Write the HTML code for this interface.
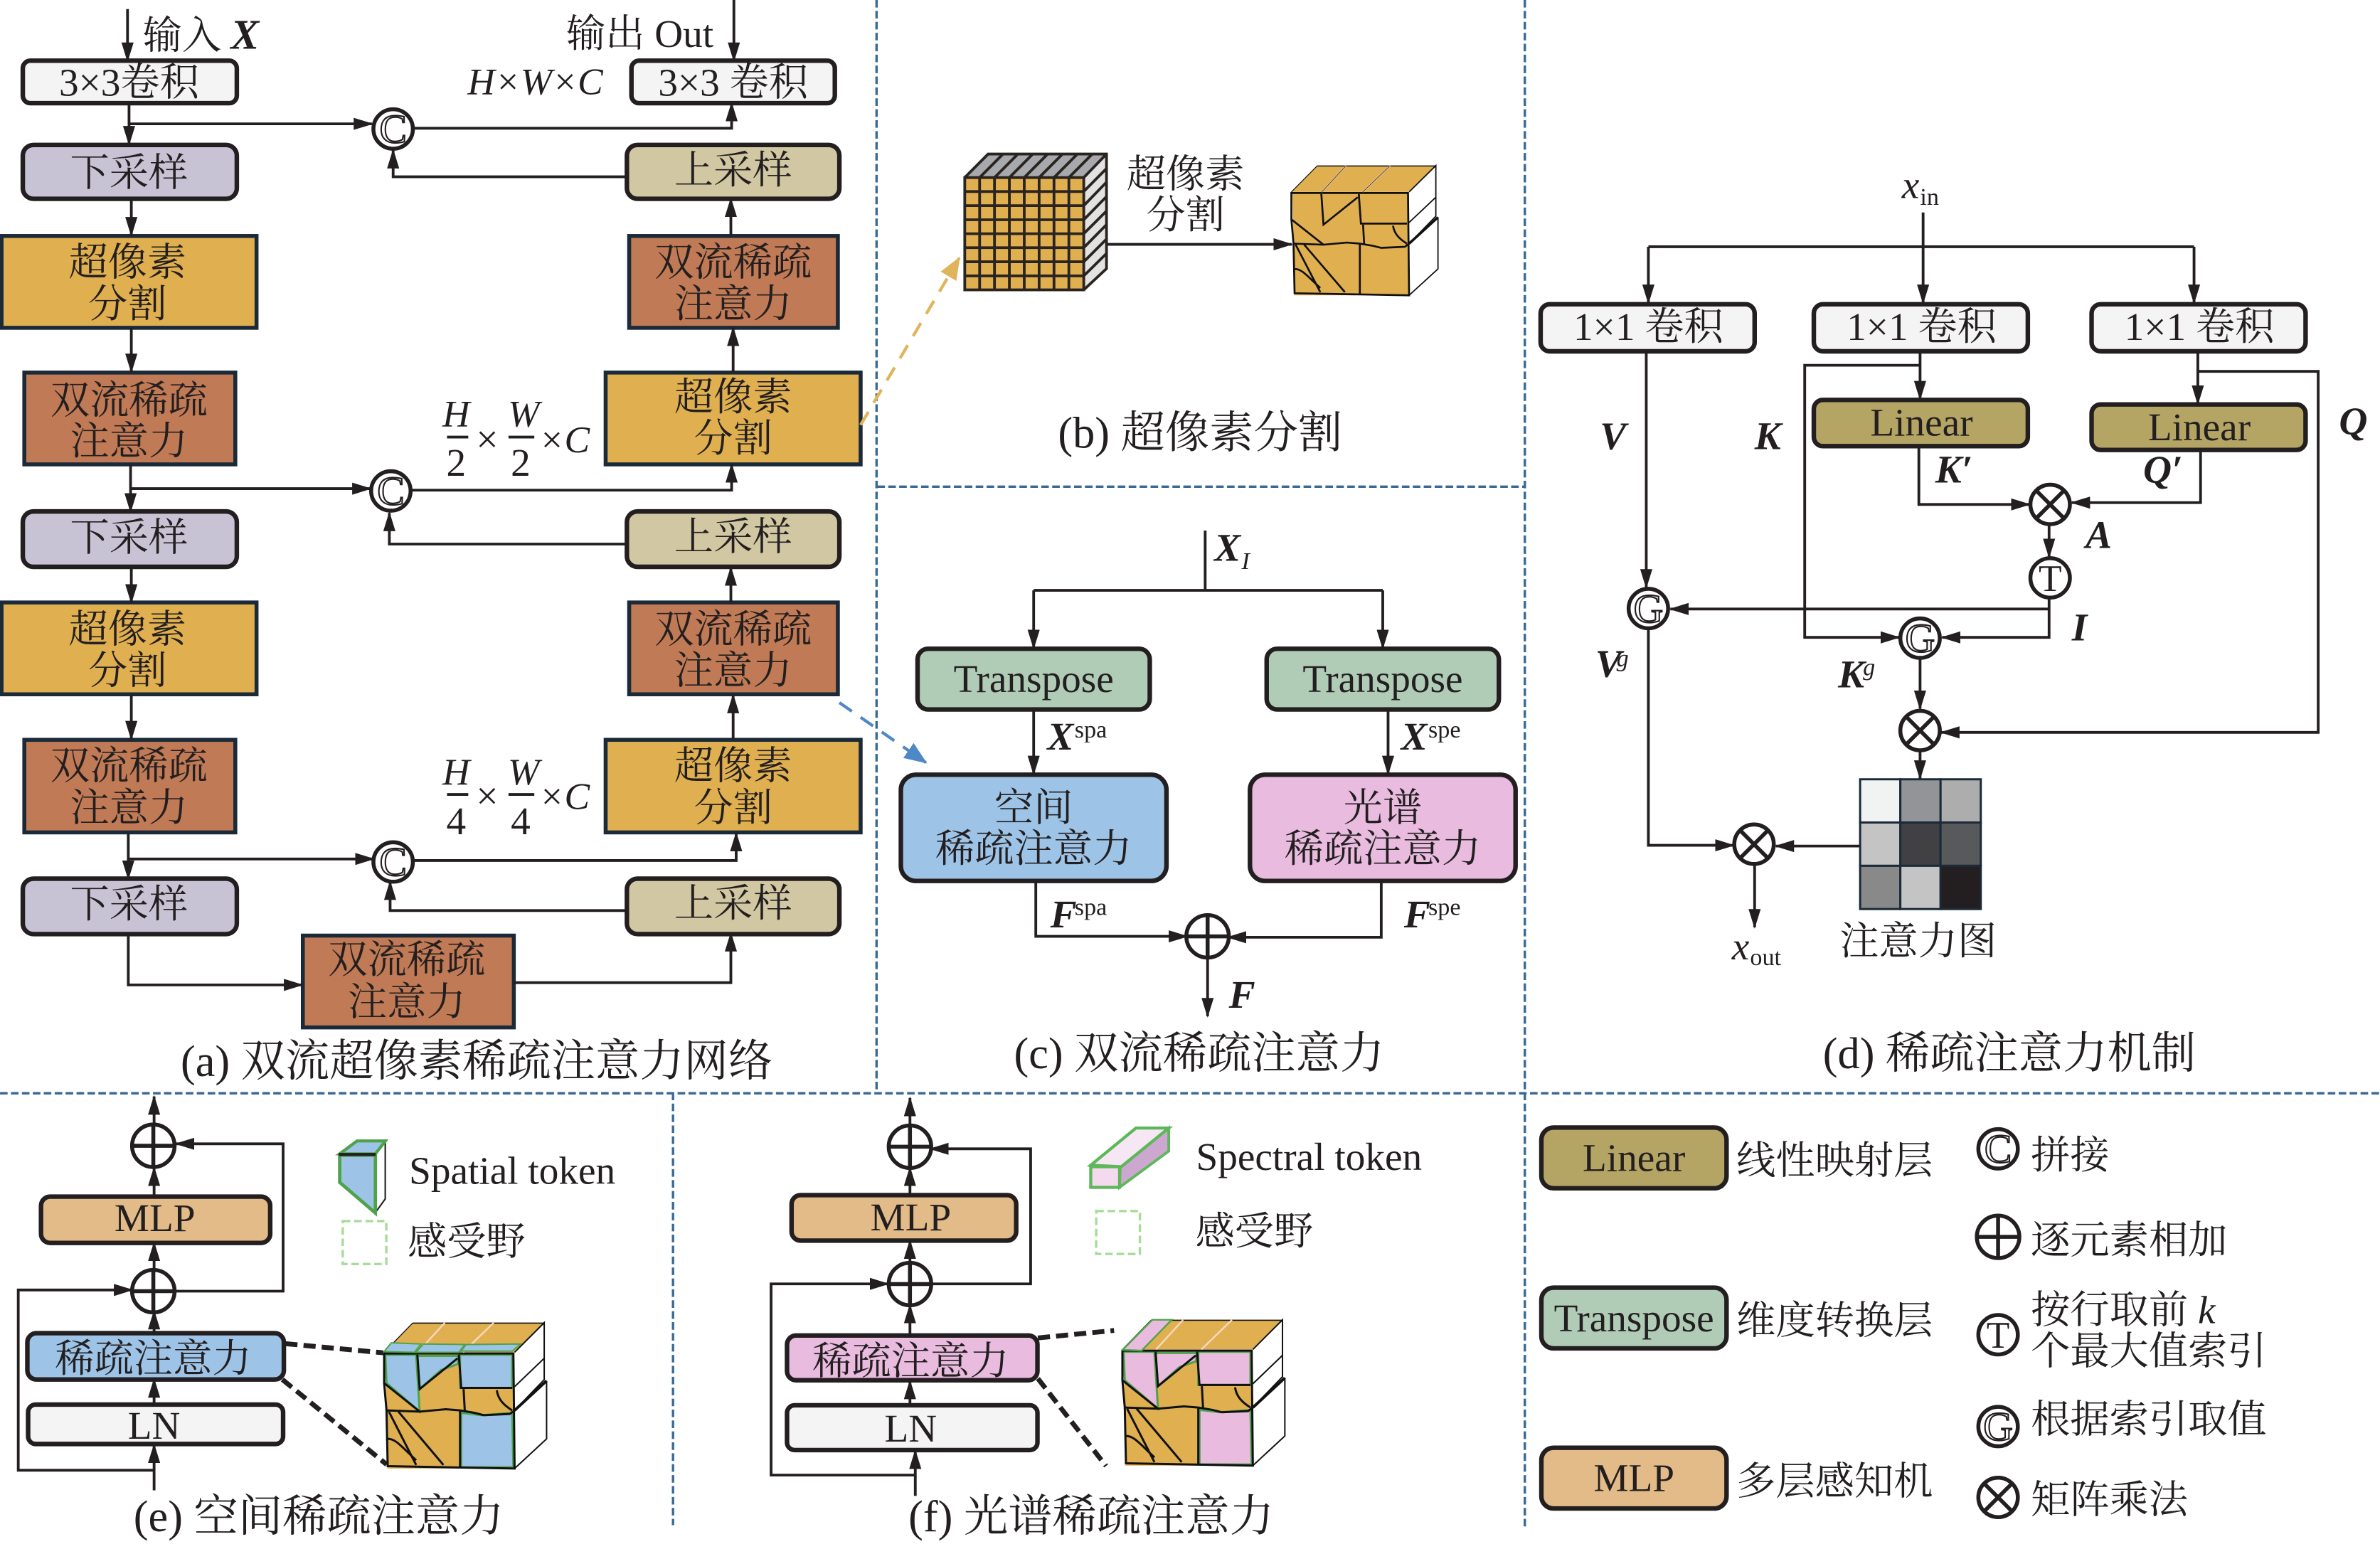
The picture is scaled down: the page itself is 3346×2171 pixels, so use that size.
<!DOCTYPE html>
<html lang="zh"><head><meta charset="utf-8"><title>双流超像素稀疏注意力网络</title>
<style>
html,body{margin:0;padding:0;background:#fff}
svg{display:block}
text{font-family:"Liberation Serif","Noto Serif CJK SC",serif;fill:#231f20;font-size:25.9px}
.m{text-anchor:middle}
.cap{font-size:29.2px}
.bi{font-weight:bold;font-style:italic;font-size:26px}
.i{font-style:italic}
.hw{font-style:italic;font-size:25px}
.s{font-size:16px}
.l{fill:none;stroke:#231f20;stroke-width:1.8}
.a{marker-end:url(#h)}
.d{fill:none;stroke:#3a6a94;stroke-width:1.6;stroke-dasharray:5 2.2}
.b{stroke:#231f20;stroke-width:3}
.q{stroke:#1b2a38;stroke-width:2.6}
.dk{fill:none;stroke:#231f20;stroke-width:3.2;stroke-dasharray:8 4}
.o{fill:#fff;stroke:#231f20;stroke-width:2.6}
.cl{fill:#fff;stroke:#231f20;stroke-width:1;font-size:27px;text-anchor:middle}
</style></head><body>
<svg xmlns="http://www.w3.org/2000/svg" width="3346" height="2171" viewBox="0 0 1568 1017.4">
<defs>
<marker id="h" markerUnits="userSpaceOnUse" markerWidth="15" markerHeight="10" refX="12" refY="4" orient="auto"><path d="M0 0L13 4L0 8z" fill="#231f20"/></marker>
<marker id="ho" markerUnits="userSpaceOnUse" markerWidth="16" markerHeight="14" refX="14" refY="6" orient="auto"><path d="M0 0L15 6L0 12z" fill="#e0b45a"/></marker>
<marker id="hb" markerUnits="userSpaceOnUse" markerWidth="16" markerHeight="14" refX="14" refY="6" orient="auto"><path d="M0 0L15 6L0 12z" fill="#4f88c6"/></marker>
<g id="ot"><circle r="13" class="o"/><path d="M-9 -9L9 9M9 -9L-9 9" stroke="#231f20" stroke-width="2.6"/></g>
<g id="pl"><circle r="14" class="o"/><path d="M-13.5 0H13.5M0 -13.5V13.5" stroke="#231f20" stroke-width="2.6"/></g>
<g id="cubeBase">
<path d="M90 215L210 90H765L635 215z" fill="#e0b050"/>
<path d="M640 215L765 90V330L775 335V580L640 705z" fill="#fff"/>
<path d="M95 220H632L638 705H103z" fill="#e0b050"/>
</g>
<g id="cubeLines" fill="none" stroke="#111" stroke-width="9">
<path d="M90 220H635L640 705L105 695L100 460L90 345z"/>
<path d="M230 225L240 370L400 240M405 225L415 365H630M425 370L430 460M100 460L240 465L350 455L410 460L470 470L510 480L620 475L640 460M90 345L240 465M565 375C570 410 590 435 630 460M110 465L225 690M150 465L340 690M105 580C140 580 160 610 225 670M410 460V700"/>
<path d="M640 215L765 90V330L640 460M775 335V580L640 705M640 360L765 240" stroke-width="6"/>
<path d="M640 460L775 335" stroke-width="12"/>
<path d="M210 92H765" stroke-width="5"/>
<path d="M90 215L210 92" stroke-width="4"/>
<path d="M232 215L346 90M423 215L552 90" stroke="#f7d9c4" stroke-width="7"/>
</g>
</defs>
<rect width="1568" height="1017.4" fill="#fff"/>

<!-- dividers -->
<path class="d" d="M577.5 0V720M1004.6 0V1008M0 720.4H1568M578 320.7H1004M443.4 720V1005"/>

<!-- panel a boxes -->
<rect x="15" y="40" width="141" height="28" rx="5" fill="#f4f4f4" class="b"/>
<rect x="416" y="40" width="134" height="28" rx="5" fill="#f4f4f4" class="b"/>
<rect x="15" y="95.5" width="141" height="35.5" rx="7" fill="#c8c3d4" class="b"/>
<rect x="413" y="95.5" width="140" height="35.5" rx="7" fill="#d1c7a2" class="b"/>
<rect x="1" y="155.5" width="168" height="60.5" fill="#e0b050" class="q"/>
<rect x="414.5" y="155.5" width="137.5" height="60.5" fill="#c07a55" class="q"/>
<rect x="16" y="245.5" width="139" height="60.5" fill="#c07a55" class="q"/>
<rect x="399" y="245.5" width="168" height="60.5" fill="#e0b050" class="q"/>
<rect x="15" y="337" width="141" height="36.5" rx="7" fill="#c8c3d4" class="b"/>
<rect x="413" y="337" width="140" height="36.5" rx="7" fill="#d1c7a2" class="b"/>
<rect x="1" y="397" width="168" height="60.5" fill="#e0b050" class="q"/>
<rect x="414.5" y="397" width="137.5" height="60.5" fill="#c07a55" class="q"/>
<rect x="16" y="487.5" width="139" height="61" fill="#c07a55" class="q"/>
<rect x="399" y="487.5" width="168" height="61" fill="#e0b050" class="q"/>
<rect x="15" y="579" width="141" height="36.5" rx="7" fill="#c8c3d4" class="b"/>
<rect x="413" y="579" width="140" height="36.5" rx="7" fill="#d1c7a2" class="b"/>
<rect x="199.5" y="616.5" width="139" height="60.5" fill="#c07a55" class="q"/>

<!-- panel a connectors -->
<path class="l a" d="M84 6V40"/>
<path class="l a" d="M483.5 0V40"/>
<path class="l a" d="M85 68V95"/>
<path class="l a" d="M85 81.6H245"/>
<path class="l a" d="M272 84.5H482V68"/>
<path class="l a" d="M413 116.5H259V99"/>
<path class="l a" d="M86.5 131V155"/>
<path class="l a" d="M86.5 216V245"/>
<path class="l a" d="M481.5 155V131"/>
<path class="l a" d="M483 245V216"/>
<path class="l a" d="M86 306V337"/>
<path class="l a" d="M86 322H244"/>
<path class="l a" d="M271 323H482V306"/>
<path class="l a" d="M413 358.5H256.5V338"/>
<path class="l a" d="M86.5 374V397"/>
<path class="l a" d="M86.5 458V487"/>
<path class="l a" d="M481.5 397V374"/>
<path class="l a" d="M483 487V458"/>
<path class="l a" d="M84.5 549V579"/>
<path class="l a" d="M84.5 566H246"/>
<path class="l a" d="M272 567H485V549"/>
<path class="l a" d="M413 600H257V581"/>
<path class="l a" d="M84.5 615V649H199"/>
<path class="l a" d="M338.6 647.5H481.5V615"/>

<circle cx="259" cy="85" r="13" class="o"/><text x="259" y="94" class="cl">C</text>
<circle cx="257.5" cy="323.5" r="13" class="o"/><text x="257.5" y="332.5" class="cl">C</text>
<circle cx="259" cy="568" r="13" class="o"/><text x="259" y="577" class="cl">C</text>

<!-- panel a text -->
<text x="94" y="32">输入</text><text x="152" y="32" class="bi" style="font-size:28px">X</text>
<text x="373" y="31">输出 Out</text>
<text x="85" y="63" class="m">3×3卷积</text>
<text x="483" y="63" class="m">3×3 卷积</text>
<text x="308" y="62" class="hw">H×W×C</text>
<text x="85" y="122.5" class="m">下采样</text>
<text x="483" y="121" class="m">上采样</text>
<text x="84" y="181.5" class="m">超像素</text><text x="84" y="209" class="m">分割</text>
<text x="483" y="181.5" class="m">双流稀疏</text><text x="483" y="209" class="m">注意力</text>
<text x="85" y="272.5" class="m">双流稀疏</text><text x="85" y="299.5" class="m">注意力</text>
<text x="483" y="270.5" class="m">超像素</text><text x="483" y="297.5" class="m">分割</text>
<text x="85" y="363" class="m">下采样</text>
<text x="483" y="362.5" class="m">上采样</text>
<text x="84" y="423.5" class="m">超像素</text><text x="84" y="450.5" class="m">分割</text>
<text x="483" y="423.5" class="m">双流稀疏</text><text x="483" y="450.5" class="m">注意力</text>
<text x="85" y="513.5" class="m">双流稀疏</text><text x="85" y="541" class="m">注意力</text>
<text x="483" y="513.5" class="m">超像素</text><text x="483" y="541" class="m">分割</text>
<text x="85" y="604.5" class="m">下采样</text>
<text x="483" y="604" class="m">上采样</text>
<text x="268" y="641" class="m">双流稀疏</text><text x="268" y="669" class="m">注意力</text>
<text x="119" y="709" class="cap">(a) 双流超像素稀疏注意力网络</text>

<!-- fractions -->
<text x="300.5" y="281" class="hw m">H</text><path d="M294.5 288H308.5" class="l"/><text x="300.5" y="313.5" class="m">2</text>
<text x="321" y="298" class="m">×</text>
<text x="345" y="281" class="hw m">W</text><path d="M335 288H352" class="l"/><text x="343" y="313.5" class="m">2</text>
<text x="355" y="298" class="hw">×C</text>
<text x="300.5" y="517" class="hw m">H</text><path d="M294.5 523.5H308.5" class="l"/><text x="300.5" y="549.6" class="m">4</text>
<text x="321" y="533" class="m">×</text>
<text x="345" y="517" class="hw m">W</text><path d="M335 523.5H352" class="l"/><text x="343" y="549.6" class="m">4</text>
<text x="355" y="533" class="hw">×C</text>

<!-- dashed callouts -->
<path d="M567 280L632 170" fill="none" stroke="#e0b45a" stroke-width="2" stroke-dasharray="10 7" marker-end="url(#ho)"/>
<path d="M553 463L610 502.5" fill="none" stroke="#4f88c6" stroke-width="2" stroke-dasharray="10 7" marker-end="url(#hb)"/>

<!-- panel b -->
<path d="M635.6 117L651 101.5H729L714 117z" fill="#a7a9ac"/>
<path d="M714 117L729 101.5V177L714 191z" fill="#e2e2e2"/>
<rect x="635.6" y="117" width="78.4" height="74" fill="#e0b050"/>
<path fill="none" stroke="#2a2420" stroke-width="1.8" d="M635.6 117H714V191H635.6zM645.4 117V191M655.2 117V191M665 117V191M674.8 117V191M684.6 117V191M694.4 117V191M704.2 117V191M635.6 126.2H714M635.6 135.5H714M635.6 144.8H714M635.6 154H714M635.6 163.2H714M635.6 172.5H714M635.6 181.8H714M635.6 117L651 101.5H729V177L714 191M714 117L729 101.5M645.4 117L660.8 101.5M655.2 117L670.6 101.5M665 117L680.4 101.5M674.8 117L690.2 101.5M684.6 117L700 101.5M694.4 117L709.8 101.5M704.2 117L719.6 101.5M714 126.2L729 111M714 135.5L729 120M714 144.8L729 129.5M714 154L729 139M714 163.2L729 148M714 172.5L729 157.5M714 181.8L729 167"/>
<path class="l a" d="M729 161H851"/>
<text x="781" y="123.5" class="m">超像素</text><text x="781" y="150.5" class="m">分割</text>
<g transform="translate(838.1,96.6) scale(.141,.139)"><use href="#cubeBase"/><use href="#cubeLines"/><path d="M232 215L346 90M423 215L552 90" stroke="#3a2a1a" stroke-width="3" fill="none"/></g>
<text x="697" y="295" class="cap">(b) 超像素分割</text>

<!-- panel c -->
<path class="l" d="M794 349.6V389M681 389H911"/>
<path class="l a" d="M681 389V427"/>
<path class="l a" d="M911 389V427"/>
<rect x="604.5" y="427.5" width="153" height="40" rx="7" fill="#b0ccb7" class="b"/>
<rect x="834.5" y="427.5" width="153" height="40" rx="7" fill="#b0ccb7" class="b"/>
<path class="l a" d="M681 468V510"/>
<path class="l a" d="M914.5 468V510"/>
<rect x="593.5" y="510.5" width="175" height="70" rx="10" fill="#9dc3e6" class="b"/>
<rect x="823.5" y="510.5" width="175" height="70" rx="10" fill="#e8bbdf" class="b"/>
<path class="l a" d="M682.4 581V617H782"/>
<path class="l a" d="M910 581V617.6H809"/>
<use href="#pl" x="795.6" y="617"/>
<path class="l a" d="M795.6 630.5V669.6"/>
<text x="681" y="456" class="m">Transpose</text>
<text x="911" y="456" class="m">Transpose</text>
<text x="681" y="541" class="m">空间</text><text x="681" y="568" class="m">稀疏注意力</text>
<text x="911" y="541" class="m">光谱</text><text x="911" y="568" class="m">稀疏注意力</text>
<text x="800" y="369.4" class="bi">X</text><text x="818" y="375" class="i s">I</text>
<text x="690" y="494" class="bi">X</text><text x="708" y="486" class="s">spa</text>
<text x="923" y="494" class="bi">X</text><text x="941" y="486" class="s">spe</text>
<text x="692" y="611" class="bi">F</text><text x="708" y="603" class="s">spa</text>
<text x="925" y="611" class="bi">F</text><text x="941" y="603" class="s">spe</text>
<text x="809.6" y="664" class="bi">F</text>
<text x="668" y="704" class="cap">(c) 双流稀疏注意力</text>

<!-- panel d -->
<text x="1253" y="130.5" class="i">x</text><text x="1265" y="135" class="s">in</text>
<path class="l" d="M1086 162.6H1445.5"/>
<path class="l a" d="M1267 140V199.5"/>
<path class="l a" d="M1086 162.6V199.5"/>
<path class="l a" d="M1445.5 162.6V199.5"/>
<rect x="1015" y="200.5" width="141" height="31" rx="6" fill="#f4f4f4" class="b"/>
<rect x="1195" y="200.5" width="141" height="31" rx="6" fill="#f4f4f4" class="b"/>
<rect x="1378" y="200.5" width="141" height="31" rx="6" fill="#f4f4f4" class="b"/>
<text x="1086" y="224" class="m">1×1 卷积</text>
<text x="1266" y="224" class="m">1×1 卷积</text>
<text x="1449" y="224" class="m">1×1 卷积</text>
<rect x="1195" y="263.5" width="141" height="30.5" rx="6" fill="#b5a565" class="b"/>
<rect x="1378" y="266.5" width="141" height="30" rx="6" fill="#b5a565" class="b"/>
<text x="1266" y="287" class="m">Linear</text>
<text x="1449" y="290" class="m">Linear</text>
<path class="l a" d="M1084.6 232V387"/>
<path class="l a" d="M1265 232V263"/>
<path class="l a" d="M1448 232V266"/>
<path class="l a" d="M1265 240.7H1189V420H1251"/>
<path class="l a" d="M1448 244.7H1527.3V482.6H1279"/>
<path class="l a" d="M1264.2 294V332.4H1337"/>
<path class="l a" d="M1449.8 296.7V331.2H1365"/>
<path class="l a" d="M1350 346V367"/>
<path class="l a" d="M1350 394V420H1279.6"/>
<path class="l a" d="M1350 401.3H1100.5"/>
<path class="l a" d="M1265 434V467"/>
<path class="l a" d="M1265 495V513"/>
<path class="l a" d="M1225 557.5H1170"/>
<path class="l a" d="M1086 415V557H1142"/>
<path class="l a" d="M1156 570V611"/>
<use href="#ot" x="1350.7" y="332.4"/>
<circle cx="1350.7" cy="380.8" r="13" class="o"/><text x="1350.7" y="389.5" class="m" style="font-size:25px">T</text>
<circle cx="1086" cy="401" r="13" class="o"/><text x="1086" y="410" class="cl">G</text>
<circle cx="1265" cy="420.5" r="13" class="o"/><text x="1265" y="429.5" class="cl">G</text>
<use href="#ot" x="1265" y="481.4"/>
<use href="#ot" x="1155.6" y="556.3"/>
<g stroke="#1b2a38" stroke-width="1.4">
<rect x="1225.5" y="513.5" width="26.5" height="28.5" fill="#f1f2f2"/><rect x="1252" y="513.5" width="26.5" height="28.5" fill="#929497"/><rect x="1278.5" y="513.5" width="26.5" height="28.5" fill="#adadad"/>
<rect x="1225.5" y="542" width="26.5" height="28.5" fill="#c4c4c4"/><rect x="1252" y="542" width="26.5" height="28.5" fill="#414042"/><rect x="1278.5" y="542" width="26.5" height="28.5" fill="#58595b"/>
<rect x="1225.5" y="570.5" width="26.5" height="28.5" fill="#898989"/><rect x="1252" y="570.5" width="26.5" height="28.5" fill="#c4c4c4"/><rect x="1278.5" y="570.5" width="26.5" height="28.5" fill="#231f20"/>
</g>
<text x="1141" y="632.3" class="i">x</text><text x="1153" y="636" class="s">out</text>
<text x="1212" y="629">注意力图</text>
<text x="1054" y="296" class="bi">V</text>
<text x="1156" y="296" class="bi">K</text>
<text x="1541" y="286" class="bi">Q</text>
<text x="1275" y="318" class="bi">K′</text>
<text x="1412" y="318" class="bi">Q′</text>
<text x="1374" y="361" class="bi">A</text>
<text x="1365" y="422" class="bi">I</text>
<text x="1051" y="446" class="bi">V</text><text x="1065" y="439" class="i s">g</text>
<text x="1211" y="453" class="bi">K</text><text x="1227.4" y="445" class="i s">g</text>
<text x="1201" y="704" class="cap">(d) 稀疏注意力机制</text>

<!-- panel e -->
<rect x="27" y="788.5" width="151" height="30.5" rx="6" fill="#e2bb88" class="b"/>
<rect x="18" y="878.5" width="169" height="30.5" rx="6" fill="#9dc3e6" class="b"/>
<rect x="18.5" y="925.5" width="168" height="26" rx="5" fill="#f4f4f4" class="b"/>
<path class="l a" d="M101.5 741V722.5"/>
<path class="l a" d="M101.5 788V769.5"/>
<path class="l a" d="M101.5 836V819"/>
<path class="l a" d="M101.5 878V864"/>
<path class="l a" d="M101.5 925V909"/>
<path class="l a" d="M101.5 982V952"/>
<path class="l a" d="M101 968.8H12V850H87"/>
<path class="l a" d="M115 850.8H186.5V753.7H116"/>
<use href="#pl" x="101" y="755"/>
<use href="#pl" x="101" y="850.8"/>
<text x="102" y="811.2" class="m">MLP</text>
<text x="101" y="904" class="m">稀疏注意力</text>
<text x="101.5" y="948" class="m">LN</text>
<path d="M247 761L253.8 752V790L247.3 799z" fill="#fff" stroke="#231f20" stroke-width="1"/>
<path d="M223.8 760.3L235.2 751.8H253.9L247.3 760.3z" fill="#9dc3e6" stroke="#4ea34a" stroke-width="2"/>
<path d="M223.8 761.2H247.3V799.3L223.8 779.1z" fill="#9dc3e6" stroke="#4ea34a" stroke-width="2.2"/>
<path d="M223.2 760.7H247.5" stroke="#231f20" stroke-width="2"/>
<rect x="225.8" y="804.6" width="28.7" height="28.3" fill="none" stroke="#a8dc9a" stroke-width="1.6" stroke-dasharray="5 2.5"/>
<text x="269.5" y="780">Spatial token</text>
<text x="268.5" y="827">感受野</text>
<path class="dk" d="M188 885.4L252.4 891.4M186 909L254.7 965"/>
<g transform="translate(239,857.5) scale(.15625)">
<use href="#cubeBase"/>
<g fill="#9dc3e6" stroke="#4ea34a" stroke-width="9">
<path d="M95 225H225L240 465L100 345z"/>
<path d="M230 230H405L400 265L330 290L240 370z"/>
<path d="M410 225H630V365H410z"/>
<path d="M415 470L500 480L630 470L635 700H415z"/>
</g>
<use href="#cubeLines"/>
<g fill="#9dc3e6" stroke="#4ea34a" stroke-width="6">
<path d="M90 212L120 175L245 180L218 215z"/>
<path d="M225 215L255 180L430 182L405 215z"/>
<path d="M415 210L435 182L665 180L630 210z"/>
</g>
</g>
<text x="88" y="1009" class="cap">(e) 空间稀疏注意力</text>

<!-- panel f -->
<rect x="521.5" y="787.5" width="148" height="30" rx="6" fill="#e2bb88" class="b"/>
<rect x="518.5" y="880" width="165" height="29.5" rx="6" fill="#e8bbdf" class="b"/>
<rect x="518.5" y="926" width="165" height="29.5" rx="5" fill="#f4f4f4" class="b"/>
<path class="l a" d="M599.5 742V723.5"/>
<path class="l a" d="M599.5 787V769.5"/>
<path class="l a" d="M599.5 832V817.5"/>
<path class="l a" d="M599.5 880V860"/>
<path class="l a" d="M599.5 926V910"/>
<path class="l a" d="M603 985.7V956"/>
<path class="l a" d="M603 972H508V846H585"/>
<path class="l a" d="M613 846H679V757H613"/>
<use href="#pl" x="599.5" y="755.6"/>
<use href="#pl" x="599.5" y="846.1"/>
<text x="600" y="810.7" class="m">MLP</text>
<text x="600" y="905.6" class="m">稀疏注意力</text>
<text x="600" y="950" class="m">LN</text>
<path d="M738 769L770 743.3V758.5L737.6 782.4z" fill="#cca8d0" stroke="#5cb858" stroke-width="1.8"/>
<path d="M718.6 767.8L748.4 743.3H770L738.7 768.8z" fill="#f7e6f3" stroke="#5cb858" stroke-width="2"/>
<rect x="718.6" y="768.8" width="19" height="13.6" fill="#f5d9ee" stroke="#5cb858" stroke-width="2"/>
<rect x="722.2" y="798" width="28.8" height="28.3" fill="none" stroke="#a8dc9a" stroke-width="1.6" stroke-dasharray="5 2.5"/>
<text x="788" y="771">Spectral token</text>
<text x="787.5" y="820">感受野</text>
<path class="dk" d="M683.8 881.6L734 876.7M683.8 908.4L728.7 966"/>
<g transform="translate(725.4,855.6) scale(.15625)">
<use href="#cubeBase"/>
<g fill="#e8bbdf" stroke="#4ea34a" stroke-width="9">
<path d="M95 225H225L240 465L100 345z"/>
<path d="M230 230H405L400 265L330 290L240 370z"/>
<path d="M410 225H630V365H410z"/>
<path d="M415 470L500 480L630 470L635 700H415z"/>
</g>
<use href="#cubeLines"/>
<path d="M91 217L216 90H298L171 220z" fill="#e8bbdf" stroke="#4ea34a" stroke-width="7"/>
</g>
<text x="598.5" y="1009" class="cap">(f) 光谱稀疏注意力</text>

<!-- legend -->
<rect x="1015.5" y="743" width="122" height="40" rx="8" fill="#b5a565" class="b"/>
<rect x="1015.5" y="848.5" width="122" height="40" rx="8" fill="#b0ccb7" class="b"/>
<rect x="1015.5" y="954" width="122" height="40" rx="8" fill="#e2bb88" class="b"/>
<text x="1076.5" y="771.6" class="m">Linear</text>
<text x="1076.5" y="877.3" class="m">Transpose</text>
<text x="1076.5" y="982.4" class="m">MLP</text>
<text x="1144" y="773.5">线性映射层</text>
<text x="1144" y="879">维度转换层</text>
<text x="1144" y="984.8">多层感知机</text>
<circle cx="1316.4" cy="757" r="13" class="o"/><text x="1316.4" y="766" class="cl">C</text>
<use href="#pl" x="1316.4" y="815"/>
<circle cx="1316.4" cy="879.5" r="13" class="o"/><text x="1316.4" y="888" class="m" style="font-size:25px">T</text>
<circle cx="1316.4" cy="940" r="13" class="o"/><text x="1316.4" y="949" class="cl">G</text>
<use href="#ot" x="1316.4" y="986.7"/>
<text x="1338" y="770">拼接</text>
<text x="1338" y="826">逐元素相加</text>
<text x="1338" y="872">按行取前 <tspan class="i">k</tspan></text>
<text x="1338" y="899">个最大值索引</text>
<text x="1338" y="944">根据索引取值</text>
<text x="1338" y="997">矩阵乘法</text>
</svg>
</body></html>
